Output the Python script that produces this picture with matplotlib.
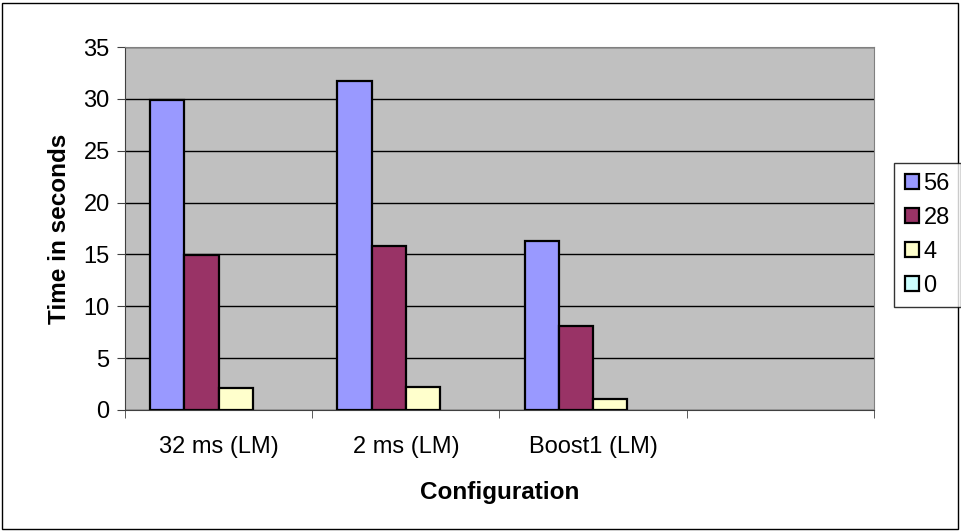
import numpy as np
import matplotlib.pyplot as plt
from matplotlib.patches import Rectangle, Patch

plt.rcParams['font.family'] = ['Liberation Sans', 'DejaVu Sans']

categories = ["32 ms (LM)", "2 ms (LM)", "Boost1 (LM)", ""]
series_names = ["56", "28", "4", "0"]
values_56 = [29.9, 31.7, 16.3, 0]
values_28 = [14.9, 15.8, 8.1, 0]
values_4 = [2.1, 2.2, 1.1, 0]
values_0 = [0, 0, 0, 0]
colors = ["#9999FF", "#993366", "#FFFFCC", "#CCFFFF"]

fig = plt.figure(figsize=(9.62, 5.31), dpi=100)
ax = fig.add_axes([125 / 962, 121 / 531, 749 / 962, 363 / 531])
ax.set_facecolor("#C0C0C0")

x = np.arange(len(categories))
w = 0.183
all_series = [values_56, values_28, values_4, values_0]
for i, (vals, c) in enumerate(zip(all_series, colors)):
    bars = ax.bar(x + (i - 1.5) * w, vals, width=w, color=c, edgecolor="black",
                  linewidth=1.6, zorder=3)
    # zero-height bars are invisible in the original
    for b, v in zip(bars, vals):
        if v == 0:
            b.set_linewidth(0)

ax.set_xlim(-0.5, 3.5)
ax.set_ylim(0, 35)
ax.set_yticks(range(0, 36, 5))
ax.yaxis.grid(True, color="black", linewidth=1.0, zorder=1)
ax.set_axisbelow(True)

ax.set_xticks(x)
ax.set_xticklabels(categories, fontsize=17)
ax.tick_params(axis="x", which="major", length=0, pad=19)
ax.set_xticks(np.arange(-0.5, 4, 1), minor=True)
ax.tick_params(axis="x", which="minor", length=6, direction="out", color="#404040")
ax.tick_params(axis="y", labelsize=17, length=6, color="#404040", pad=5)

for s in ["left", "bottom"]:
    ax.spines[s].set_color("#404040")
for s in ["top", "right"]:
    ax.spines[s].set_color("#808080")

ax.set_xlabel("Configuration", fontsize=17.5, fontweight="bold", labelpad=16)
ax.set_ylabel("Time in seconds", fontsize=17.5, fontweight="bold", labelpad=9)

handles = [Patch(facecolor=c, edgecolor="black", linewidth=1.6, label=n)
           for c, n in zip(colors, series_names)]
leg = fig.legend(handles=handles, loc="center left",
                 bbox_to_anchor=(894 / 962, 296 / 531),
                 fontsize=17, frameon=True, fancybox=False, edgecolor="black",
                 handlelength=0.6, handleheight=0.6, handletextpad=0.2,
                 borderpad=0.45, labelspacing=0.5, borderaxespad=0)
leg.get_frame().set_linewidth(1.0)

fig.patches.append(Rectangle((2 / 962, 2 / 531), 956 / 962, 526 / 531,
                             transform=fig.transFigure, fill=False,
                             edgecolor="black", linewidth=1))

fig.savefig("out.png", dpi=100)
